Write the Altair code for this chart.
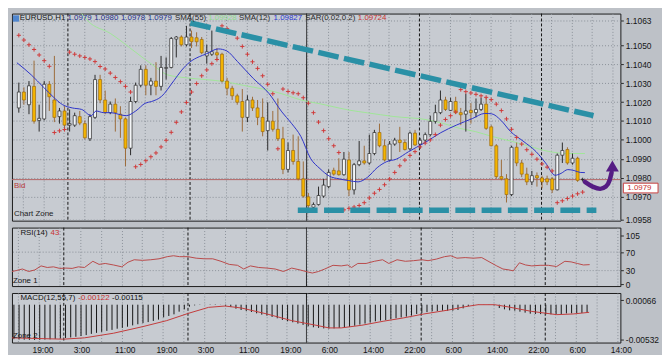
import altair as alt
import pandas as pd

FONT = "Liberation Sans, Arial, sans-serif"

# ---------------- data ----------------
opens = [1.10169, 1.10253, 1.10186, 1.10283, 1.10103, 1.10111, 1.10294, 1.10211, 1.10123, 1.10153,
         1.10078, 1.10078, 1.10123, 1.10086, 1.10006, 1.10119, 1.10319, 1.10211, 1.10144, 1.10189,
         1.10136, 1.10111, 1.09956, 1.10203, 1.10289, 1.10373, 1.10289, 1.10311, 1.10283, 1.10378,
         1.10383, 1.10533, 1.10544, 1.10503, 1.10544, 1.10540, 1.10531, 1.10444, 1.10453, 1.10461,
         1.10453, 1.10311, 1.10273, 1.10233, 1.10203, 1.10119, 1.10211, 1.10169, 1.10119, 1.10049,
         1.10099, 1.10056, 1.10006, 1.09844, 1.09944, 1.09886, 1.09794, 1.09699, 1.09644, 1.09658,
         1.09703, 1.09753, 1.09839, 1.09836, 1.09816, 1.09894, 1.09736, 1.09869, 1.09889, 1.09878,
         1.09928, 1.10039, 1.09969, 1.09894, 1.09978, 1.09999, 1.09986, 1.09953, 1.10036, 1.09978,
         1.09999, 1.10028, 1.10098, 1.10144, 1.10211, 1.10156, 1.10203, 1.10144, 1.10136, 1.10156,
         1.10144, 1.10161, 1.10189, 1.10069, 1.09969, 1.09806, 1.09794, 1.09711, 1.09961, 1.09878,
         1.09819, 1.09778, 1.09811, 1.09799, 1.09794, 1.09794, 1.09736, 1.09919, 1.09949, 1.09878,
         1.09903, 1.09790]
highs = [1.10303, 1.10278, 1.10311, 1.10419, 1.10186, 1.10311, 1.10311, 1.10444, 1.10169, 1.10178,
         1.10161, 1.10144, 1.10153, 1.10103, 1.10136, 1.10344, 1.10344, 1.10261, 1.10203, 1.10219,
         1.10178, 1.10119, 1.10228, 1.10303, 1.10394, 1.10394, 1.10328, 1.10411, 1.10444, 1.10436,
         1.10544, 1.10549, 1.10553, 1.10603, 1.10578, 1.10569, 1.10544, 1.10503, 1.10578, 1.10486,
         1.10461, 1.10328, 1.10286, 1.10244, 1.10269, 1.10236, 1.10228, 1.10211, 1.10219, 1.10199,
         1.10153, 1.10219, 1.10069, 1.09986, 1.10028, 1.10019, 1.09886, 1.09719, 1.09669, 1.09753,
         1.09794, 1.09844, 1.09853, 1.09903, 1.09936, 1.09936, 1.09878, 1.09994, 1.09969, 1.10028,
         1.10053, 1.10086, 1.10003, 1.09994, 1.10011, 1.10069, 1.10003, 1.10044, 1.10053, 1.10011,
         1.10039, 1.10128, 1.10186, 1.10261, 1.10228, 1.10223, 1.10228, 1.10169, 1.10244, 1.10194,
         1.10219, 1.10223, 1.10223, 1.10078, 1.09978, 1.09894, 1.09819, 1.09969, 1.09986, 1.09894,
         1.09853, 1.09836, 1.09828, 1.09811, 1.09811, 1.09803, 1.09928, 1.09986, 1.09961, 1.09928,
         1.09911, 1.09800]
lows = [1.10144, 1.10186, 1.10136, 1.10086, 1.10044, 1.10103, 1.10153, 1.10094, 1.10086, 1.10053,
        1.10044, 1.10069, 1.10078, 1.10003, 1.09994, 1.10111, 1.10194, 1.10136, 1.10136, 1.10044,
        1.10011, 1.09861, 1.09919, 1.10194, 1.10278, 1.10236, 1.10236, 1.10236, 1.10261, 1.10319,
        1.10378, 1.10436, 1.10494, 1.10494, 1.10486, 1.10494, 1.10453, 1.10403, 1.10444, 1.10428,
        1.10303, 1.10236, 1.10211, 1.10186, 1.10044, 1.10094, 1.10153, 1.10078, 1.10019, 1.09944,
        1.10044, 1.09994, 1.09819, 1.09828, 1.09869, 1.09786, 1.09694, 1.09636, 1.09633, 1.09653,
        1.09694, 1.09744, 1.09811, 1.09811, 1.09811, 1.09703, 1.09711, 1.09861, 1.09869, 1.09869,
        1.09919, 1.09961, 1.09886, 1.09886, 1.09969, 1.09936, 1.09944, 1.09944, 1.09969, 1.09953,
        1.09986, 1.10019, 1.10086, 1.10136, 1.10153, 1.10153, 1.10136, 1.10078, 1.10044, 1.10086,
        1.10119, 1.10153, 1.10053, 1.09966, 1.09794, 1.09786, 1.09669, 1.09703, 1.09861, 1.09803,
        1.09761, 1.09761, 1.09753, 1.09744, 1.09761, 1.09719, 1.09733, 1.09878, 1.09869, 1.09869,
        1.09778, 1.09780]
closes = [1.10253, 1.10211, 1.10286, 1.10099, 1.10114, 1.10294, 1.10228, 1.10119, 1.10153, 1.10078,
          1.10086, 1.10128, 1.10089, 1.10011, 1.10123, 1.10319, 1.10211, 1.10144, 1.10189, 1.10144,
          1.10111, 1.09956, 1.10203, 1.10289, 1.10373, 1.10289, 1.10311, 1.10283, 1.10383, 1.10383,
          1.10536, 1.10544, 1.10503, 1.10544, 1.10519, 1.10519, 1.10461, 1.10466, 1.10466, 1.10449,
          1.10311, 1.10273, 1.10233, 1.10199, 1.10119, 1.10211, 1.10169, 1.10119, 1.10044, 1.10099,
          1.10056, 1.10006, 1.09844, 1.09944, 1.09886, 1.09794, 1.09703, 1.09653, 1.09658, 1.09706,
          1.09761, 1.09828, 1.09819, 1.09816, 1.09898, 1.09736, 1.09869, 1.09889, 1.09878, 1.09928,
          1.10039, 1.09969, 1.09894, 1.09978, 1.09999, 1.09986, 1.09949, 1.10036, 1.09973, 1.09998,
          1.10028, 1.10098, 1.10144, 1.10211, 1.10161, 1.10203, 1.10144, 1.10133, 1.10153, 1.10144,
          1.10161, 1.10189, 1.10061, 1.09969, 1.09806, 1.09794, 1.09711, 1.09961, 1.09878, 1.09819,
          1.09778, 1.09811, 1.09799, 1.09778, 1.09778, 1.09736, 1.09919, 1.09944, 1.09878, 1.09903,
          1.09786, 1.09790]
sar_values = [1.10553, 1.10528, 1.10503, 1.10478, 1.10449, 1.10419, 1.10389, 1.10039, 1.10048, 1.10055,
              1.10464, 1.10453, 1.10444, 1.10436, 1.10428, 1.10414, 1.10388, 1.10375, 1.10353, 1.10330,
              1.10308, 1.10283, 1.10253, 1.09858, 1.09870, 1.09890, 1.09911, 1.09931, 1.09963, 1.09998,
              1.10040, 1.10093, 1.10148, 1.10198, 1.10253, 1.10298, 1.10339, 1.10370, 1.10403, 1.10425,
              1.10603, 1.10588, 1.10568, 1.10538, 1.10494, 1.10453, 1.10413, 1.10378, 1.10339, 1.10294,
              1.10244, 1.09953, 1.10269, 1.10256, 1.10249, 1.10244, 1.10223, 1.10194, 1.10144, 1.10094,
              1.10049, 1.10006, 1.09969, 1.09933, 1.09630, 1.09638, 1.09645, 1.09653, 1.09668, 1.09693,
              1.09718, 1.09738, 1.09763, 1.09793, 1.09828, 1.09863, 1.09893, 1.09918, 1.09938, 1.09963,
              1.09983, 1.10000, 1.10028, 1.10078, 1.10108, 1.10128, 1.10148, 1.10266, 1.10255, 1.10248,
              1.10241, 1.10233, 1.10225, 1.10213, 1.10189, 1.10155, 1.10111, 1.10056, 1.10013, 1.09978,
              1.09948, 1.09924, 1.09898, 1.09873, 1.09856, 1.09836, 1.09668, 1.09678, 1.09690, 1.09703,
              1.09715, 1.09724]
macd_values = [-0.00520, -0.00525, -0.00528, -0.00530, -0.00532, -0.00530, -0.00526, -0.00522, -0.00516, -0.00510,
               -0.00502, -0.00494, -0.00484, -0.00472, -0.00458, -0.00440, -0.00425, -0.00410, -0.00395, -0.00380,
               -0.00362, -0.00350, -0.00332, -0.00312, -0.00295, -0.00278, -0.00262, -0.00245, -0.00225, -0.00190,
               -0.00170, -0.00145, -0.00105, -0.00070, -0.00030, -0.00010, -0.00004, 0.00002, 0.00005, 0.00006,
               0.00002, -0.00015, -0.00035, -0.00060, -0.00080, -0.00095, -0.00110, -0.00130, -0.00150, -0.00165,
               -0.00185, -0.00205, -0.00230, -0.00250, -0.00265, -0.00285, -0.00305, -0.00325, -0.00340, -0.00350,
               -0.00358, -0.00360, -0.00357, -0.00350, -0.00340, -0.00335, -0.00318, -0.00300, -0.00285, -0.00270,
               -0.00250, -0.00240, -0.00232, -0.00220, -0.00205, -0.00192, -0.00180, -0.00165, -0.00140, -0.00125,
               -0.00112, -0.00100, -0.00095, -0.00090, -0.00092, -0.00090, -0.00080, -0.00055, -0.00020, -0.00008,
               -0.00004, -0.00002, -0.00003, -0.00010, -0.00050, -0.00070, -0.00085, -0.00090, -0.00105, -0.00120,
               -0.00135, -0.00140, -0.00142, -0.00145, -0.00145, -0.00148, -0.00140, -0.00132, -0.00130, -0.00128,
               -0.00125, -0.00122]

sma12_i = [-0.38, 2.44, 4.88, 6.75, 8.63, 10.51, 12.38, 14.26, 15.2, 16.7, 18.01, 21.14, 23.02, 24.9, 26.14,
           28.01, 30.52, 32.08, 33.64, 35.52, 36.77, 39.27, 40.9, 43.02, 46.15, 49.29, 51.78, 53.66, 55.53,
           57.41, 59.29, 61.16, 63.04, 64.92, 66.79, 68.67, 70.54, 72.42, 74.3, 76.74, 79.92, 83.06, 86.12,
           89.31, 91.74, 93.06, 94.93, 96.81, 99.25, 101.82, 103.7, 105.57, 106.75, 108.07, 109.32, 110.51, 111.44]
sma12_v = [1.10408, 1.10344, 1.10278, 1.10228, 1.10186, 1.10169, 1.10161, 1.10128, 1.10153, 1.10144, 1.10144,
           1.10128, 1.10153, 1.10194, 1.10203, 1.10228, 1.10313, 1.10369, 1.10411, 1.10440, 1.10453, 1.10481,
           1.10471, 1.10415, 1.10325, 1.10244, 1.10148, 1.10088, 1.10018, 1.09903, 1.09848, 1.09808, 1.09794,
           1.09785, 1.09778, 1.09803, 1.09853, 1.09885, 1.09898, 1.09938, 1.09985, 1.10038, 1.10078, 1.10113,
           1.10140, 1.10138, 1.10103, 1.10044, 1.09994, 1.09938, 1.09878, 1.09813, 1.09823, 1.09843, 1.09838,
           1.09828, 1.09827]
sma55_i = [12.38, 13.64, 18.01, 23.02, 26.77, 29.27, 33.02, 36.77, 40.53, 44.28, 48.03, 51.78, 55.53, 59.29,
           61.16, 64.92, 68.67, 73.68, 80.49, 83.68, 86.81, 89.87, 93.06, 96.81, 100.56, 104.32, 108.07, 111.44]
sma55_v = [1.10668, 1.10628, 1.10563, 1.10463, 1.10388, 1.10344, 1.10328, 1.10319, 1.10308, 1.10288, 1.10269,
           1.10244, 1.10211, 1.10191, 1.10180, 1.10158, 1.10143, 1.10124, 1.10106, 1.10086, 1.10061, 1.10044,
           1.10019, 1.09994, 1.09966, 1.09939, 1.09928, 1.09928]

rsi_i = [-0.375, 0.45, 1.65, 2.86, 4.06, 5.26, 6.46, 7.67, 8.87, 10.07,
         11.28, 12.48, 13.68, 15.29, 16.49, 17.69, 19.29, 20.9, 22.1, 23.3,
         24.9, 26.5, 28.1, 29.7, 30.9, 32.1, 33.7, 35.3, 36.9, 38.5,
         40.1, 41.7, 43.3, 44.5, 45.8, 47.4, 49.0, 50.6, 52.2, 53.8,
         55.4, 57.0, 57.8, 59.0, 60.2, 61.8, 63.4, 64.6, 65.4, 66.6,
         68.2, 69.8, 71.4, 72.6, 74.2, 75.8, 77.4, 79.0, 80.2, 81.8,
         83.4, 84.6, 85.8, 87.4, 89.0, 90.6, 92.2, 93.5, 94.7, 95.9,
         96.7, 97.9, 99.1, 100.3, 101.9, 103.5, 105.1, 106.7, 107.9, 109.1,
         110.3, 111.5]
rsi_v = [28.1, 30.1, 33.5, 28.1, 31.5, 40.2, 36.8, 38.2, 34.8, 35.5,
         34.8, 38.2, 36.8, 50.2, 43.5, 45.5, 42.2, 38.2, 48.2, 53.5,
         52.2, 53.5, 55.6, 60.2, 62.2, 60.2, 60.2, 56.9, 55.6, 55.6,
         50.2, 43.5, 41.5, 33.5, 40.2, 36.8, 35.5, 33.5, 28.1, 35.5,
         31.5, 26.8, 24.8, 28.1, 33.5, 41.5, 40.2, 42.2, 36.8, 45.5,
         45.5, 50.2, 53.5, 45.5, 53.5, 50.2, 51.5, 53.5, 51.5, 54.9,
         60.2, 62.2, 56.9, 58.2, 56.9, 58.2, 48.2, 40.2, 33.5, 31.5,
         29.5, 46.9, 42.2, 40.2, 41.5, 41.5, 38.8, 50.2, 48.9, 45.5,
         42.2, 43.0]
rsi_levels = [70, 30]

signal_i = [-0.375, 9.6, 13.7, 19.3, 25.0, 29.6, 33.8, 37.7, 40.9, 44.1, 49.0, 53.8, 58.5, 61.0,
            63.4, 67.4, 71.5, 75.4, 79.4, 84.2, 87.4, 89.9, 93.1, 95.5, 100.2, 105.1, 108.3, 111.4]
signal_v = [-0.0050, -0.0052, -0.0050, -0.0043, -0.0033, -0.0024, -0.0013, -0.0004, -0.0002, -0.0005,
            -0.0014, -0.0024, -0.0031, -0.0035, -0.0035, -0.0031, -0.0025, -0.0020, -0.0014, -0.0008,
            -0.0003, 0.0000, 0.0000, -0.0003, -0.0010, -0.0015, -0.0014, -0.00115]

time_labels = ["19:00", "3:00", "11:00", "19:00", "3:00", "11:00", "19:00", "6:00",
               "14:00", "22:00", "6:00", "14:00", "22:00", "6:00", "14:00"]
time_label_i = [3.6, 11.6, 19.6, 27.6, 35.6, 43.6, 51.6, 59.6, 67.6, 75.6, 83.6, 91.6, 99.6, 107.6, 115.6]

price_ticks = [1.1063, 1.1050, 1.1040, 1.1030, 1.1020, 1.1010, 1.1000, 1.0990, 1.0980, 1.0970, 1.0958]
rsi_ticks = [105, 70, 30, 0]
macd_ticks = [0.00066, -0.00532]

separator_i = [9.66, 33.71, 56.66, 78.87, 102.9]
separator_kind = ["day", "day", "week", "day", "day"]

bid_price = 1.0979
resistance_i = [33.77, 113.13]
resistance_v = [1.10618, 1.10128]
support_i = [54.92, 113.7]
support_v = [1.09628, 1.09628]
arrow_i = [111.44, 112.95, 114.45, 115.57, 116.32, 116.7]
arrow_v = [1.09778, 1.09753, 1.09741, 1.09753, 1.09788, 1.09828]
arrow_head_i = [116.85]
arrow_head_v = [1.09862]

header = [("EURUSD,H1", "#141414", 7.8), ("1.0979", "#1f2f8a", 56.0), ("1.0980", "#1f2f8a", 83.0),
          ("1.0978", "#1f2f8a", 110.0), ("1.0979", "#1f2f8a", 137.0), ("SMA(55)", "#2a2a2a", 164.5),
          ("1.09928", "#8fd98a", 198.0), ("SMA(12)", "#2a2a2a", 229.0), ("1.09827", "#2c36d0", 264.0),
          ("SAR(0.02,0.2)", "#2a2a2a", 296.0), ("1.09724", "#c83232", 349.0)]

# ---------------- layout ----------------
W = 614
H_MAIN, H_RSI, H_MACD = 209, 59, 50
GRID = "#8b9199"
FS = 8

bars = pd.DataFrame({"i": list(range(len(opens))), "open": opens, "high": highs, "low": lows,
                     "close": closes, "sar": sar_values, "macd": macd_values})
bars["zero"] = 0.0

xscale = alt.Scale(domain=[-0.375, 117.45], nice=False, zero=False)
xaxis = alt.Axis(values=[0.85 + 4 * k for k in range(30)], labels=False, ticks=False, domain=False,
                 grid=True, gridDash=[1, 2], gridColor=GRID, title=None)


def X(field):
    return alt.X(field, type="quantitative", scale=xscale, axis=xaxis)


yscale_main = alt.Scale(domain=[1.09573, 1.10668], nice=False, zero=False)
yaxis_main = alt.Axis(orient="right", values=price_ticks, format=".4f", grid=True, gridDash=[1, 2],
                      gridColor=GRID, tickSize=3, domain=False, labelPadding=2, title=None)


def YM(field):
    return alt.Y(field, type="quantitative", scale=yscale_main, axis=yaxis_main)


sep_df = pd.DataFrame({"i": separator_i, "kind": separator_kind})


def separators():
    return alt.Chart(sep_df).mark_rule(color="#141414", strokeWidth=1).encode(
        x=X("i"),
        strokeDash=alt.StrokeDash("kind:N", scale=alt.Scale(domain=["day", "week"], range=[[3, 2], [1, 0]]),
                                  legend=None))


def label(text, color, x, y):
    return alt.Chart(pd.DataFrame({"t": [text]})).mark_text(
        align="left", baseline="middle", font=FONT, fontSize=FS, color=color
    ).encode(x=alt.value(x), y=alt.value(y), text="t:N")


up = alt.datum.close >= alt.datum.open

bid_rule = alt.Chart(pd.DataFrame({"p": [bid_price]})).mark_rule(color="#b36464", strokeWidth=1).encode(y=YM("p"))
sma55_line = alt.Chart(pd.DataFrame({"i": sma55_i, "v": sma55_v})).mark_line(
    color="#a0e698", strokeWidth=1, interpolate="monotone").encode(x=X("i"), y=YM("v"))
wicks = alt.Chart(bars).mark_rule(strokeWidth=1).encode(
    x=X("i"), y=YM("low"), y2="high",
    color=alt.when(up).then(alt.value("#2b2b2b")).otherwise(alt.value("#9c6b3a")))
bodies = alt.Chart(bars).mark_bar(size=3, strokeWidth=0.7).encode(
    x=X("i"), y=YM("open"), y2="close",
    color=alt.when(up).then(alt.value("#f4f6f8")).otherwise(alt.value("#f4b400")),
    stroke=alt.when(up).then(alt.value("#262626")).otherwise(alt.value("#9a6a12")))
sma12_line = alt.Chart(pd.DataFrame({"i": sma12_i, "v": sma12_v})).mark_line(
    color="#2e34c8", strokeWidth=1, interpolate="monotone").encode(x=X("i"), y=YM("v"))
sar_points = alt.Chart(bars).mark_point(shape="M-1,0L1,0M0,-1L0,1", size=18, filled=False, strokeWidth=1,
                                        opacity=1).encode(x=X("i"), y=YM("sar"), color=alt.value("#cf3b3b"))
resistance = alt.Chart(pd.DataFrame({"i": resistance_i, "v": resistance_v})).mark_line(
    color="#2a90a6", strokeWidth=5.5, strokeDash=[21, 5.5], strokeCap="butt").encode(x=X("i"), y=YM("v"))
support = alt.Chart(pd.DataFrame({"i": support_i, "v": support_v})).mark_line(
    color="#2a90a6", strokeWidth=5.5, strokeDash=[20, 6.5], strokeCap="butt").encode(x=X("i"), y=YM("v"))
arrow = alt.Chart(pd.DataFrame({"i": arrow_i, "v": arrow_v})).mark_line(
    color="#551c84", strokeWidth=4.5, interpolate="monotone", strokeCap="round").encode(x=X("i"), y=YM("v"))
arrow_head = alt.Chart(pd.DataFrame({"i": arrow_head_i, "v": arrow_head_v})).mark_point(
    shape="triangle-up", size=170, filled=True, opacity=1, color="#551c84").encode(x=X("i"), y=YM("v"))
bid_text = alt.Chart(pd.DataFrame({"p": [bid_price], "t": ["Bid"]})).mark_text(
    align="left", baseline="top", dy=2, font=FONT, fontSize=FS, color="#b83a3a"
).encode(x=alt.value(2), y=YM("p"), text="t:N")
price_box = alt.Chart(pd.DataFrame({"p": [bid_price]})).mark_point(
    shape="M-1,-0.28L1,-0.28L1,0.28L-1,0.28Z", size=1225, filled=True, fill="white",
    stroke="#c84040", strokeWidth=1, opacity=1, yOffset=8.5).encode(x=alt.value(W + 20.5), y=YM("p"))
price_box_text = alt.Chart(pd.DataFrame({"p": [bid_price], "t": ["1.0979"]})).mark_text(
    align="left", baseline="middle", dy=8.5, font=FONT, fontSize=8, color="#c83030"
).encode(x=alt.value(W + 7), y=YM("p"), text="t:N")
icon = alt.Chart(pd.DataFrame({"t": [0]})).mark_point(
    shape="square", size=40, filled=True, opacity=1, color="#4f86cf").encode(x=alt.value(4), y=alt.value(5))

main_layers = [separators(), bid_rule, sma55_line, wicks, bodies, sma12_line, sar_points,
               resistance, support, arrow, arrow_head, bid_text, price_box, price_box_text, icon,
               label("Chart Zone", "#1e1e1e", 2, H_MAIN - 7)]
main_layers += [label(t, c, x, 5) for (t, c, x) in header]
main = alt.layer(*main_layers).properties(width=W, height=H_MAIN)

# RSI panel
yscale_rsi = alt.Scale(domain=[-3.4, 123.1], nice=False, zero=False)
yaxis_rsi = alt.Axis(orient="right", values=rsi_ticks, format="d", grid=False, tickSize=3, domain=False,
                     labelPadding=2, title=None)
rsi_level_rules = alt.Chart(pd.DataFrame({"v": rsi_levels})).mark_rule(
    color=GRID, strokeDash=[1, 2]).encode(y=alt.Y("v:Q", scale=yscale_rsi, axis=yaxis_rsi))
rsi_line = alt.Chart(pd.DataFrame({"i": rsi_i, "v": rsi_v})).mark_line(color="#b94a4a", strokeWidth=1).encode(
    x=X("i"), y=alt.Y("v:Q", scale=yscale_rsi, axis=yaxis_rsi))
rsi = alt.layer(
    rsi_level_rules, separators(), rsi_line,
    label("RSI(14)", "#141414", 8.5, 5), label("43", "#c83232", 39, 5),
    label("Zone 1", "#141414", 1, H_RSI - 5),
).properties(width=W, height=H_RSI)

# MACD panel
yscale_macd = alt.Scale(domain=[-0.005708, 0.001767], nice=False, zero=False)
yaxis_macd = alt.Axis(orient="right", values=macd_ticks,
                      labelExpr="datum.value < 0 ? '-' + format(-datum.value, '.5f') : format(datum.value, '.5f')",
                      grid=False, tickSize=3, domain=False, labelPadding=2, title=None)
hist = alt.Chart(bars).mark_rule(color="#151515", strokeWidth=1).encode(
    x=X("i"), y=alt.Y("zero:Q", scale=yscale_macd, axis=yaxis_macd), y2="macd")
signal = alt.Chart(pd.DataFrame({"i": signal_i, "v": signal_v})).mark_line(color="#c23b3b", strokeWidth=1).encode(
    x=X("i"), y=alt.Y("v:Q", scale=yscale_macd, axis=yaxis_macd))
time_text = alt.Chart(pd.DataFrame({"i": time_label_i, "t": time_labels})).mark_text(
    align="left", baseline="middle", font=FONT, fontSize=8.5, color="#141414"
).encode(x=X("i"), y=alt.value(H_MACD + 8), text="t:N")
macd = alt.layer(
    separators(), hist, signal, time_text,
    label("MACD(12,55,7)", "#141414", 8.5, 5), label("-0.00122", "#c83232", 67, 5),
    label("-0.00115", "#141414", 101, 5), label("Zone 2", "#141414", 1, H_MACD - 7),
).properties(width=W, height=H_MACD)

chart = alt.vconcat(main, rsi, macd, spacing=2).configure(
    background="#bdc1c7", padding=1, font=FONT
).configure_view(fill="#c7cbd1", stroke="#1c1c1c", strokeWidth=1).configure_axis(
    labelFont=FONT, labelFontSize=8.5, labelColor="#161616", tickColor="#2a2a2a"
)

chart.save("out.html", embed_options={"renderer": "svg", "actions": False})
